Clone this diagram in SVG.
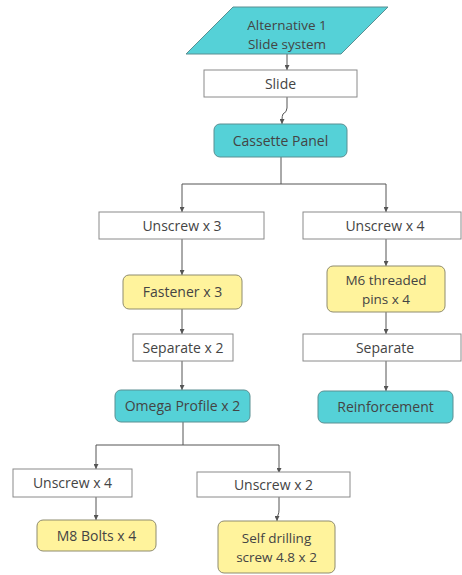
<svg xmlns="http://www.w3.org/2000/svg" width="462" height="575" viewBox="0 0 462 575">
  <defs>
    <marker id="arrow" viewBox="0 0 8 8" refX="8" refY="4" markerWidth="5" markerHeight="5" orient="auto" markerUnits="userSpaceOnUse">
      <path d="M0,0 L8,4 L0,8 z" fill="#555"/>
    </marker>
    <style>
      text { font-family: "Open Sans", "Liberation Sans", sans-serif; font-size: 14px; fill: #444444; text-anchor: middle; }
      text.two { font-size: 13.5px; }
      .step { fill: #ffffff; stroke: #8a8a8a; stroke-width: 1; }
      .part { fill: #55d1d7; stroke: #5a8f92; stroke-width: 1; }
      .item { fill: #fff39c; stroke: #8f8c6e; stroke-width: 1; }
      .io { fill: #55d1d7; stroke: #5a8f92; stroke-width: 1; }
      .conn path { fill: none; stroke: #555; stroke-width: 1; }
      .conn path.tip { marker-end: url(#arrow); }
    </style>
  </defs>
  <rect width="462" height="575" fill="#ffffff"/>

  <!-- connectors -->
  <g id="connectors" class="conn">
    <path class="tip" d="M287,54 V70"/>
    <path class="tip" d="M287,97 V108 Q287,112 283,114 Q282,116 282,120 V124"/>
    <path d="M281,157 V184 M182,184 H386"/>
    <path class="tip" d="M182,184 V212"/>
    <path class="tip" d="M386,184 V212"/>
    <path class="tip" d="M182,239 V275"/>
    <path class="tip" d="M386,239 V266"/>
    <path class="tip" d="M182,309 V334"/>
    <path class="tip" d="M386,312 V334"/>
    <path class="tip" d="M182,361 V390"/>
    <path class="tip" d="M386,361 V391"/>
    <path d="M183,422 V445 M96,445 H279"/>
    <path class="tip" d="M96,445 V469"/>
    <path class="tip" d="M279,445 V473"/>
    <path class="tip" d="M96,497 V520"/>
    <path class="tip" d="M279,497 V510 Q279,513 278,515 Q277,517 277,521"/>
  </g>

  <g id="alternative">
    <polygon class="io" points="233,7 388,7 341,54 186,54"/>
    <text class="two" x="287" y="29.5">Alternative 1</text>
    <text class="two" x="287" y="48.5">Slide system</text>
  </g>

  <g id="slide">
    <rect class="step" x="204" y="70" width="153" height="27"/>
    <text x="280.5" y="88.5">Slide</text>
  </g>

  <g id="cassette-panel">
    <rect class="part" x="214" y="124" width="133" height="33" rx="6"/>
    <text x="280.5" y="145.5">Cassette Panel</text>
  </g>

  <g id="unscrew-3">
    <rect class="step" x="99" y="212" width="165" height="27"/>
    <text x="182" y="230.5">Unscrew x 3</text>
  </g>

  <g id="unscrew-4-right">
    <rect class="step" x="303" y="212" width="158" height="27"/>
    <text x="385" y="230.5">Unscrew x 4</text>
  </g>

  <g id="fastener">
    <rect class="item" x="123" y="275" width="119" height="34" rx="6"/>
    <text x="182.5" y="297">Fastener x 3</text>
  </g>

  <g id="m6-pins">
    <rect class="item" x="327" y="266" width="118" height="46" rx="6"/>
    <text class="two" x="386" y="285">M6 threaded</text>
    <text class="two" x="386" y="304">pins x 4</text>
  </g>

  <g id="separate-2">
    <rect class="step" x="133" y="334" width="100" height="27"/>
    <text x="183" y="352.5">Separate x 2</text>
  </g>

  <g id="separate">
    <rect class="step" x="303" y="334" width="158" height="27"/>
    <text x="385" y="352.5">Separate</text>
  </g>

  <g id="omega-profile">
    <rect class="part" x="115" y="390" width="135" height="32" rx="6"/>
    <text x="182.5" y="411">Omega Profile x 2</text>
  </g>

  <g id="reinforcement">
    <rect class="part" x="318" y="391" width="135" height="32" rx="6"/>
    <text x="385.5" y="412">Reinforcement</text>
  </g>

  <g id="unscrew-4-left">
    <rect class="step" x="13" y="469" width="119" height="28"/>
    <text x="72.5" y="488">Unscrew x 4</text>
  </g>

  <g id="unscrew-2">
    <rect class="step" x="197" y="472" width="153" height="25"/>
    <text x="273.5" y="489.5">Unscrew x 2</text>
  </g>

  <g id="m8-bolts">
    <rect class="item" x="37" y="520" width="119" height="31" rx="6"/>
    <text x="96.5" y="540.5">M8 Bolts x 4</text>
  </g>

  <g id="self-drilling">
    <rect class="item" x="218" y="521" width="117" height="52" rx="6"/>
    <text class="two" x="276.5" y="543">Self drilling</text>
    <text class="two" x="276.5" y="562">screw 4.8 x 2</text>
  </g>
</svg>
